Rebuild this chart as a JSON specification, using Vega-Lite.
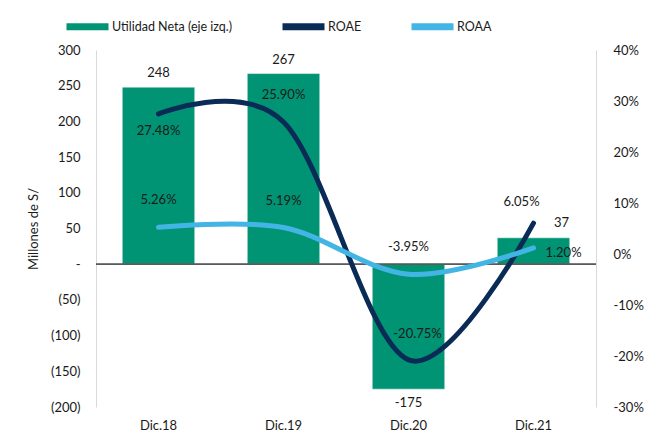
{
  "$schema": "https://vega.github.io/schema/vega-lite/v6.json",
  "width": 500,
  "height": 357,
  "autosize": {"type": "none"},
  "padding": {"left": 96, "top": 50, "right": 64, "bottom": 28},
  "background": "white",
  "config": {
    "view": {"stroke": null},
    "font": "Lato",
    "locale": {"number": {"decimal": ".", "thousands": ",", "grouping": [3], "currency": ["$", ""], "minus": "-"}},
    "axis": {"labelFont": "Lato", "labelFontSize": 13, "labelColor": "#1a1a1a", "titleFont": "Lato", "titleFontSize": 13, "titleFontWeight": "normal", "titleColor": "#1a1a1a", "ticks": false, "grid": false, "domainColor": "#D9D9D9"},
    "text": {"font": "Lato", "fontSize": 13, "color": "#1a1a1a", "baseline": "middle"}
  },
  "datasets": {
    "util": [
      {"periodo": "Dic.18", "serie": "Utilidad Neta (eje izq.)", "valor": 248},
      {"periodo": "Dic.19", "serie": "Utilidad Neta (eje izq.)", "valor": 267},
      {"periodo": "Dic.20", "serie": "Utilidad Neta (eje izq.)", "valor": -175},
      {"periodo": "Dic.21", "serie": "Utilidad Neta (eje izq.)", "valor": 37}
    ],
    "ratios": [
      {"periodo": "Dic.18", "serie": "ROAE", "valor": 0.2748},
      {"periodo": "Dic.19", "serie": "ROAE", "valor": 0.2590},
      {"periodo": "Dic.20", "serie": "ROAE", "valor": -0.2075},
      {"periodo": "Dic.21", "serie": "ROAE", "valor": 0.0605},
      {"periodo": "Dic.18", "serie": "ROAA", "valor": 0.0526},
      {"periodo": "Dic.19", "serie": "ROAA", "valor": 0.0519},
      {"periodo": "Dic.20", "serie": "ROAA", "valor": -0.0395},
      {"periodo": "Dic.21", "serie": "ROAA", "valor": 0.0120}
    ]
  },
  "encoding": {
    "x": {"field": "periodo", "type": "nominal", "sort": null,
      "scale": {"paddingInner": 0.42, "paddingOuter": 0.21},
      "axis": {"title": null, "labelAngle": 0, "domain": false, "labelPadding": 12}}
  },
  "layer": [
    {
      "data": {"name": "util"},
      "encoding": {
        "y": {"field": "valor", "type": "quantitative",
          "scale": {"domain": [-200, 300], "nice": false, "zero": false},
          "axis": {"title": "Millones de S/", "values": [-200, -150, -100, -50, 0, 50, 100, 150, 200, 250, 300],
            "labelExpr": "datum.value == 0 ? '-' : (datum.value < 0 ? '(' + abs(datum.value) + ')' : datum.value)",
            "labelPadding": 16, "titlePadding": 10}}
      },
      "layer": [
        {"mark": {"type": "bar", "stroke": "#FFFFFF", "strokeWidth": 0.5},
          "encoding": {"color": {"field": "serie", "type": "nominal",
            "scale": {"domain": ["Utilidad Neta (eje izq.)", "ROAE", "ROAA"], "range": ["#009474", "#0B2B57", "#43B5E5"]},
            "legend": {"orient": "none", "direction": "horizontal", "legendX": -33, "legendY": -48, "title": null,
              "symbolType": "stroke", "symbolSize": 1764, "symbolStrokeWidth": 7, "columnPadding": 35,
              "labelFont": "Lato", "labelFontSize": 12.5, "labelColor": "#1a1a1a", "labelOffset": 0,
              "encode": {"symbols": {"update": {
                "strokeWidth": {"signal": "datum.value === 'Utilidad Neta (eje izq.)' ? 9 : 5"},
                "strokeCap": {"signal": "datum.value === 'Utilidad Neta (eje izq.)' ? 'butt' : 'round'"},
                "stroke": {"scale": "color", "field": "value"}}}}}}}},
        {"mark": {"type": "rule", "color": "#595959", "strokeWidth": 1},
          "encoding": {"y": {"datum": 0}, "x": null}},
        {"transform": [{"filter": "datum.periodo === 'Dic.18' || datum.periodo === 'Dic.19'"}],
          "mark": {"type": "text", "dy": -14},
          "encoding": {"text": {"field": "valor", "type": "quantitative", "format": "d"}}},
        {"transform": [{"filter": "datum.periodo === 'Dic.20'"}],
          "mark": {"type": "text", "dy": 14},
          "encoding": {"text": {"field": "valor", "type": "quantitative", "format": "d"}}},
        {"transform": [{"filter": "datum.periodo === 'Dic.21'"}],
          "mark": {"type": "text", "dy": -15, "dx": 28},
          "encoding": {"text": {"field": "valor", "type": "quantitative", "format": "d"}}}
      ]
    },
    {
      "data": {"name": "ratios"},
      "encoding": {
        "y": {"field": "valor", "type": "quantitative",
          "scale": {"domain": [-0.3, 0.4], "nice": false, "zero": false},
          "axis": {"orient": "right", "title": null, "values": [-0.3, -0.2, -0.1, 0, 0.1, 0.2, 0.3, 0.4], "format": ".0%", "labelPadding": 17}}
      },
      "layer": [
        {"transform": [{"filter": "datum.serie === 'ROAE'"}],
          "mark": {"type": "line", "interpolate": "cardinal", "strokeWidth": 5, "strokeCap": "round"},
          "encoding": {"color": {"field": "serie", "type": "nominal"}}},
        {"transform": [{"filter": "datum.serie === 'ROAA'"}],
          "mark": {"type": "line", "interpolate": "cardinal", "strokeWidth": 5, "strokeCap": "round"},
          "encoding": {"color": {"field": "serie", "type": "nominal"}}},
        {"transform": [{"filter": "datum.serie === 'ROAE' && datum.periodo === 'Dic.18'"}],
          "mark": {"type": "text", "dy": 17},
          "encoding": {"text": {"field": "valor", "type": "quantitative", "format": ".2%"}}},
        {"transform": [{"filter": "datum.serie === 'ROAE' && datum.periodo === 'Dic.19'"}],
          "mark": {"type": "text", "dy": -27},
          "encoding": {"text": {"field": "valor", "type": "quantitative", "format": ".2%"}}},
        {"transform": [{"filter": "datum.serie === 'ROAE' && datum.periodo === 'Dic.20'"}],
          "mark": {"type": "text", "dy": -26, "dx": 9},
          "encoding": {"text": {"field": "valor", "type": "quantitative", "format": ".2%"}}},
        {"transform": [{"filter": "datum.serie === 'ROAE' && datum.periodo === 'Dic.21'"}],
          "mark": {"type": "text", "dy": -21, "dx": -12},
          "encoding": {"text": {"field": "valor", "type": "quantitative", "format": ".2%"}}},
        {"transform": [{"filter": "datum.serie === 'ROAA' && datum.periodo !== 'Dic.21'"}],
          "mark": {"type": "text", "dy": -27},
          "encoding": {"text": {"field": "valor", "type": "quantitative", "format": ".2%"}}},
        {"transform": [{"filter": "datum.serie === 'ROAA' && datum.periodo === 'Dic.21'"}],
          "mark": {"type": "text", "dy": 5, "dx": 30},
          "encoding": {"text": {"field": "valor", "type": "quantitative", "format": ".2%"}}}
      ]
    }
  ],
  "resolve": {"scale": {"y": "independent"}}
}
